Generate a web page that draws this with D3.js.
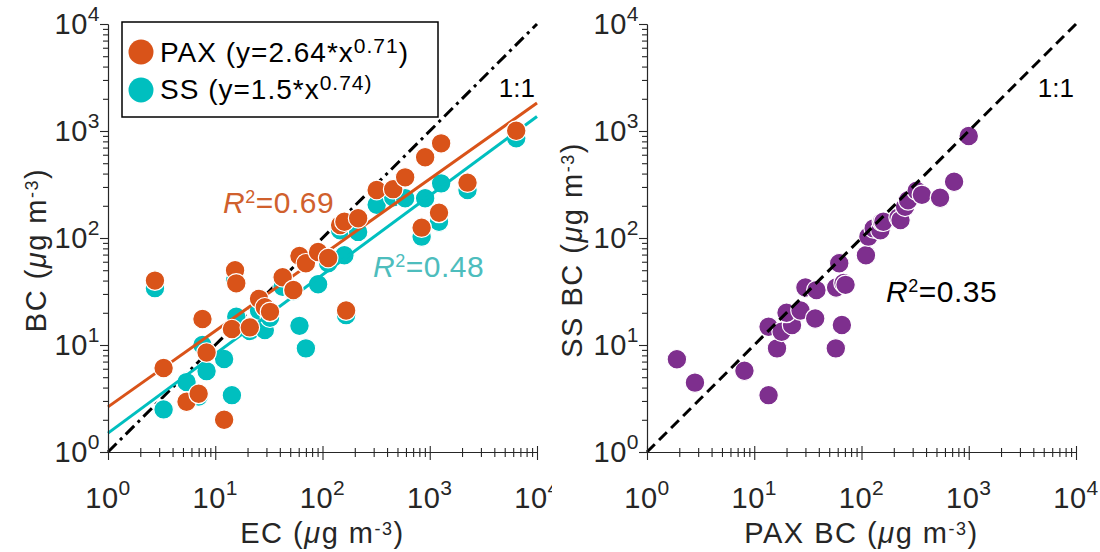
<!DOCTYPE html>
<html>
<head>
<meta charset="utf-8">
<script src="https://cdn.jsdelivr.net/npm/d3@7"></script>
<style>
  body { margin: 0; background: #fff; }
  text { font-family: "Liberation Sans", Arial, Helvetica, sans-serif; fill: #262626; }
</style>
</head>
<body>
<svg id="chart" width="1100" height="552"></svg>
<script>
// left panel: EC vs BC from the two instruments
var ecVals  = [2.74, 3.3, 5.4, 7.0, 7.6, 8.3, 12.1, 14.3, 15.3, 15.7, 21, 25.6, 29, 32.4, 42.5, 53.5, 61, 70, 91, 113, 146, 160, 166, 215, 320, 456, 590, 840, 906, 1220, 1277, 2250, 6400];
var paxVals = [40, 6.1, 2.95, 3.5, 17.5, 8.5, 2.0, 14.1, 50, 37.7, 14.6, 27, 22.5, 20.4, 43, 32.7, 68, 58, 74, 65, 132, 142, 21, 153, 281, 286, 369, 125, 568, 172, 767, 329, 1007];
var ssVals  = [34, 2.5, 4.5, 3.3, 10, 5.7, 7.4, 3.4, 40, 18.4, 13.5, 21, 13.8, 18, 35, 32, 15.1, 9.3, 37, 58, 118, 69, 19, 114, 204, 240, 235, 103, 235, 142, 324, 281, 855];

// right panel: PAX BC vs SS BC
var paxBC = [1.9, 2.8, 8.1, 13.6, 16.3, 13.6, 18, 22.5, 20, 27, 37, 30, 38, 58, 68, 65.6, 57.6, 71, 62, 110, 116, 130, 150, 155, 160, 222, 231, 255, 272, 327, 366, 540, 730, 1000];
var ssBC  = [7.35, 4.45, 5.75, 3.4, 9.3, 14.8, 13.3, 15.4, 20, 21, 17.7, 34.5, 32.6, 34.5, 38, 15.4, 9.3, 36.5, 58, 69, 103, 123, 118, 142, 142, 156, 147, 196, 225, 277, 253, 238, 336, 897];

// power-law fits y = a * x^b  (PAX, SS)
var fitA = [2.64, 1.5];
var fitB = [0.71, 0.74];
var fitR2 = ['0.69', '0.48', '0.35'];

var decades = [1, 10, 100, 1000, 10000];
var decadeExp = ['0', '1', '2', '3', '4'];

var ORANGE = '#D95319';
var CYAN = '#00BFBF';
var PURPLE = '#7E2F8E';
var AXIS = '#262626';

var svg = d3.select('#chart');

var minors = [];
decades.slice(0, 4).forEach(function(d) {
  for (var k = 2; k <= 9; k++) minors.push(d * k);
});

// text made of pieces [string, 'sup' | 'it' | '']
// opt: size, sup (font px), shift (px up), ls (letter spacing)
function richText(sel, pieces, opt) {
  sel.style('font-size', opt.size + 'px');
  if (opt.ls) sel.style('letter-spacing', opt.ls + 'px');
  var up = false;
  pieces.forEach(function(p) {
    var t = sel.append('tspan').text(p[0]);
    if (p[1] === 'sup') {
      t.style('font-size', opt.sup + 'px').attr('dy', up ? 0 : -opt.shift);
      up = true;
    } else {
      if (up) t.attr('dy', opt.shift);
      up = false;
      if (p[1] === 'it') t.style('font-style', 'italic');
    }
  });
  return sel;
}

var TICK_FONT = {size: 29, sup: 21, shift: 13, ls: 0.5};
var TITLE_FONT = {size: 29, sup: 18, shift: 8, ls: 1.5};

function drawAxes(g, x, y, xTitle, yTitle, yTitleX) {
  var x0 = x.range()[0], y0 = y.range()[0];

  // x ticks cross the axis line
  var xMinor = g.append('g').attr('transform', 'translate(0,' + y0 + ')')
    .call(d3.axisBottom(x).tickValues(minors).tickSize(5).tickSizeOuter(0).tickFormat(''));
  xMinor.selectAll('.tick line').attr('y1', -4);
  var xMajor = g.append('g').attr('transform', 'translate(0,' + y0 + ')')
    .call(d3.axisBottom(x).tickValues(decades).tickSize(8).tickSizeOuter(0).tickFormat(''));
  xMajor.selectAll('.tick line').attr('y1', -6);

  // y ticks point outward
  g.append('g').attr('transform', 'translate(' + x0 + ',0)')
    .call(d3.axisLeft(y).tickValues(minors).tickSize(5).tickSizeOuter(0).tickFormat(''));
  g.append('g').attr('transform', 'translate(' + x0 + ',0)')
    .call(d3.axisLeft(y).tickValues(decades).tickSize(8).tickSizeOuter(0).tickFormat(''));

  g.selectAll('.domain, .tick line').attr('stroke', AXIS).attr('stroke-width', 1.1);

  decades.forEach(function(d, i) {
    richText(g.append('text')
      .attr('x', x(d)).attr('y', 508)
      .attr('text-anchor', 'middle'), [['10', ''], [decadeExp[i], 'sup']], TICK_FONT);
    richText(g.append('text')
      .attr('x', x0 - 8).attr('y', y(d) + 10)
      .attr('text-anchor', 'end'), [['10', ''], [decadeExp[i], 'sup']], TICK_FONT);
  });

  richText(g.append('text')
    .attr('x', (x.range()[0] + x.range()[1]) / 2).attr('y', 543)
    .attr('text-anchor', 'middle'), xTitle, TITLE_FONT);

  richText(g.append('text')
    .attr('transform', 'translate(' + yTitleX + ',250) rotate(-90)')
    .attr('text-anchor', 'middle'), yTitle, TITLE_FONT);
}

function oneToOne(g, x, y, dash) {
  g.append('line')
    .attr('x1', x(1)).attr('y1', y(1))
    .attr('x2', x(1e4)).attr('y2', y(1e4))
    .attr('stroke', '#000')
    .attr('stroke-width', 3)
    .attr('stroke-dasharray', dash);
  g.append('text')
    .attr('x', x(1e4) - 2).attr('y', 97)
    .attr('text-anchor', 'end')
    .style('font-size', '26px')
    .style('fill', '#000')
    .text('1:1');
}

function dots(g, xs, ys, xv, yv, color) {
  g.selectAll(null)
    .data(xv.map(function(v, i) { return [v, yv[i]]; }))
    .enter()
    .append('circle')
    .attr('cx', function(d) { return xs(d[0]); })
    .attr('cy', function(d) { return ys(d[1]); })
    .attr('r', 9.8)
    .attr('fill', color)
    .attr('stroke', '#fff')
    .attr('stroke-width', 1.2);
}

function fitLine(g, xs, ys, k, color) {
  g.append('path')
    .datum([1, 1e4])
    .attr('d', d3.line()
      .x(function(d) { return xs(d); })
      .y(function(d) { return ys(fitA[k] * Math.pow(d, fitB[k])); }))
    .attr('fill', 'none')
    .attr('stroke', color)
    .attr('stroke-width', 3);
}

function unitPieces(prefix) {
  return [[prefix + ' (', ''], ['\u03bc', 'it'], ['g m', ''], ['-3', 'sup'], [')', '']];
}

var R2_FONT = {size: 30, sup: 18, shift: 10, ls: 0.5};

// ---------- left panel ----------
var xL = d3.scaleLog().domain([1, 1e4]).range([108, 537]);
var yL = d3.scaleLog().domain([1, 1e4]).range([452, 24]);
var left = svg.append('g');

oneToOne(left, xL, yL, '12,5,3,5');
dots(left, xL, yL, ecVals, ssVals, CYAN);
fitLine(left, xL, yL, 1, CYAN);
fitLine(left, xL, yL, 0, ORANGE);
dots(left, xL, yL, ecVals, paxVals, ORANGE);

richText(left.append('text').attr('x', 223).attr('y', 213).style('fill', '#D0602D'),
  [['R', 'it'], ['2', 'sup'], ['=' + fitR2[0], '']], R2_FONT);
richText(left.append('text').attr('x', 373).attr('y', 277).style('fill', '#4DBDBD'),
  [['R', 'it'], ['2', 'sup'], ['=' + fitR2[1], '']], R2_FONT);

// legend
var LEGEND_FONT = {size: 28, sup: 21, shift: 9, ls: 1};
var legend = left.append('g');
legend.append('rect')
  .attr('x', 122).attr('y', 22).attr('width', 316).attr('height', 95)
  .attr('fill', '#fff').attr('stroke', '#000').attr('stroke-width', 1.5);
legend.append('circle').attr('cx', 141).attr('cy', 52).attr('r', 12.5).attr('fill', ORANGE);
legend.append('circle').attr('cx', 141).attr('cy', 90).attr('r', 12.5).attr('fill', CYAN);
richText(legend.append('text').attr('x', 160).attr('y', 62).style('fill', '#000'),
  [['PAX (y=' + fitA[0] + '*x', ''], [String(fitB[0]), 'sup'], [')', '']], LEGEND_FONT);
richText(legend.append('text').attr('x', 160).attr('y', 99).style('fill', '#000'),
  [['SS (y=' + fitA[1] + '*x', ''], [fitB[1] + ')', 'sup']], LEGEND_FONT);

drawAxes(left, xL, yL, unitPieces('EC'), unitPieces('BC'), 46);

// the right panel's canvas clips the last label of the left one
svg.append('rect').attr('x', 552).attr('y', 462).attr('width', 40).attr('height', 50).attr('fill', '#fff');

// ---------- right panel ----------
var xR = d3.scaleLog().domain([1, 1e4]).range([647, 1076]);
var yR = d3.scaleLog().domain([1, 1e4]).range([452, 24]);
var right = svg.append('g');

dots(right, xR, yR, paxBC, ssBC, PURPLE);
oneToOne(right, xR, yR, '11,6');

richText(right.append('text').attr('x', 886).attr('y', 302).style('fill', '#000'),
  [['R', 'it'], ['2', 'sup'], ['=' + fitR2[2], '']], R2_FONT);

drawAxes(right, xR, yR, unitPieces('PAX BC'), unitPieces('SS BC'), 582);
</script>
</body>
</html>
